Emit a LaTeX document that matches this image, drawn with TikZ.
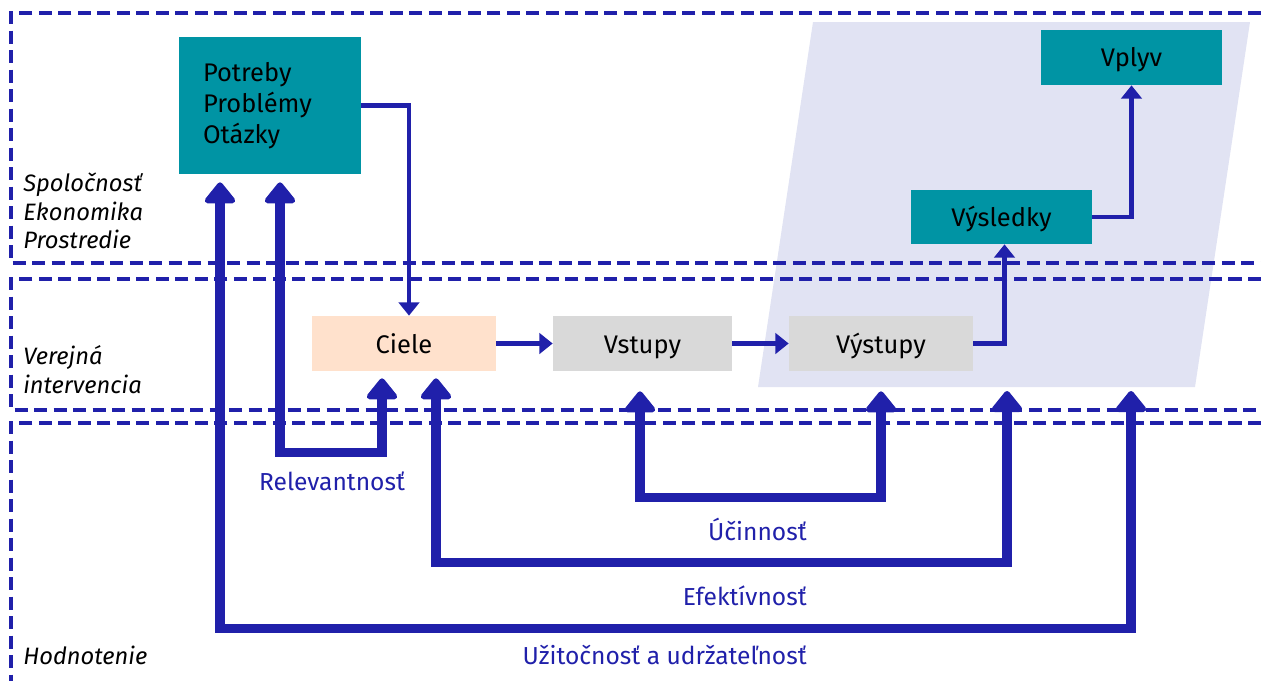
\documentclass[tikz,border=0pt]{standalone}
\usepackage{fontspec}
\setmainfont{Fira Sans}
\usetikzlibrary{arrows.meta,calc}
\definecolor{dblue}{RGB}{32,32,170}
\definecolor{tealc}{RGB}{0,148,164}
\definecolor{peach}{RGB}{255,225,204}
\definecolor{greyc}{RGB}{217,217,217}
\definecolor{lav}{RGB}{225,227,243}
\tikzset{
  dashline/.style={draw=dblue, line width=1.8pt, dash pattern=on 7.5pt off 3.6pt},
  boxnode/.style={inner sep=0pt, font=\fontsize{14.5}{17.6}\selectfont, text=black},
  onebox/.style={boxnode, text height=14pt, text depth=3.2pt},
  tealbox/.style={boxnode, fill=tealc},
  thinarrow/.style={draw=dblue, line width=2.8pt, -{Triangle[width=11.5pt,length=7.5pt]}},
  bigarrow/.style={draw=dblue, line width=5.4pt, line join=miter,
    {Triangle[width=20pt,length=13pt,round]}-{Triangle[width=20pt,length=13pt,round]}},
  sidelabel/.style={font=\fontsize{13.5}{16.4}\selectfont\itshape, align=left, anchor=west, inner sep=0pt},
  critlabel/.style={font=\fontsize{14}{17}\selectfont, text=dblue, inner sep=0pt}
}
\begin{document}
\begin{tikzpicture}[x=0.02cm,y=-0.02cm]
\useasboundingbox (0,0) rectangle (1261,681);
% shaded parallelogram
\fill[lav] (813,22) -- (1250,22) -- (1195,387) -- (758,387) -- cycle;
% dashed zones
\draw[dashline] (1261,13) -| (11,263) -- (1261,263);
\draw[dashline] (1261,279) -| (11,410) -- (1261,410);
\draw[dashline] (1261,423) -| (11,681);
% zone labels
\node[sidelabel] (zs) at (23,211) {Spoločnosť\\Ekonomika\\Prostredie};
\node[sidelabel] (zv) at (23,370) {Verejná\\intervencia};
\node[sidelabel] (zh) at (23,655) {Hodnotenie};
% boxes
\node[tealbox, minimum width=3.64cm, minimum height=2.74cm, text width=2.68cm, inner xsep=0.48cm, align=left] (P) at (270,105.5) {Potreby\\Problémy\\Otázky};
\node[onebox, fill=peach, minimum width=3.68cm, minimum height=1.10cm] (C) at (404,343.5) {Ciele};
\node[onebox, fill=greyc, minimum width=3.58cm, minimum height=1.10cm] (V) at (642.5,343.5) {Vstupy};
\node[onebox, fill=greyc, minimum width=3.68cm, minimum height=1.10cm] (Vy) at (881,343.5) {Výstupy};
\node[onebox, fill=tealc, minimum width=3.62cm, minimum height=1.08cm] (Vs) at (1001.5,217) {Výsledky};
\node[onebox, fill=tealc, minimum width=3.62cm, minimum height=1.10cm] (Vl) at (1131.5,57.5) {Vplyv};
% thin arrows
\draw[thinarrow] (P.east) -| ($(C.north)+(5,0)$);
\draw[thinarrow] (C) -- (V);
\draw[thinarrow] (V) -- (Vy);
\draw[thinarrow] (Vy.east) -| ($(Vs.south)+(3,0)$);
\draw[thinarrow] (Vs.east) -| (Vl.south);
% free ends
\coordinate (ef) at (1007,391);
\coordinate (ut) at (1131,391);
% thick evaluation arrows
\draw[bigarrow] ($(P.south)+(10,8)$) -- ++(0,270) -| ($(C.south)+(-22,7)$);
\draw[bigarrow] ($(V.south)+(-2.5,20)$) -- ++(0,106) -| ($(Vy.south)+(0,20)$);
\draw[bigarrow] ($(C.south)+(32,7)$) -- ++(0,184) -| (ef);
\draw[bigarrow] ($(P.south)+(-50,8)$) -- ++(0,446) -| (ut);
% criteria labels
\node[critlabel, anchor=base] (lr) at (332,490) {Relevantnosť};
\node[critlabel, anchor=base east] (lu) at (807,540) {Účinnosť};
\node[critlabel, anchor=base east] (le) at (807,605) {Efektívnosť};
\node[critlabel, anchor=base east] (lz) at (807,664) {Užitočnosť a udržateľnosť};
\end{tikzpicture}
\end{document}
